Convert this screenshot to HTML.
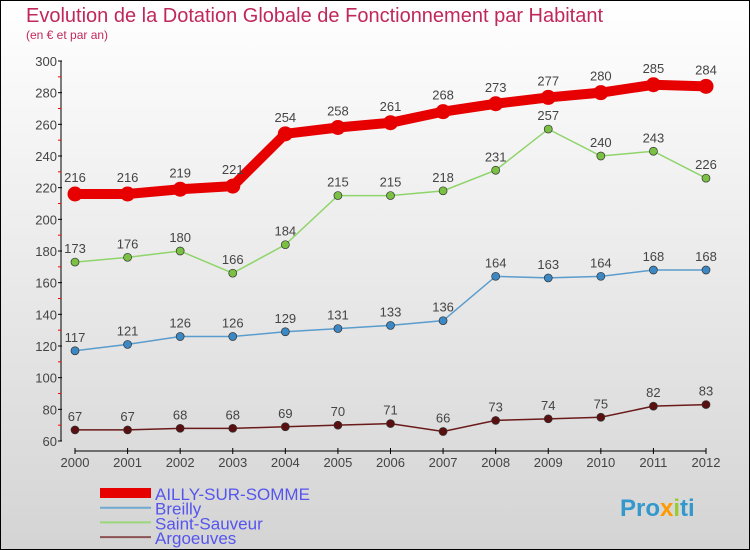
<!DOCTYPE html>
<html><head><meta charset="utf-8"><style>
body{margin:0}
#c{width:750px;height:550px;position:relative;box-sizing:border-box;border:1px solid #000;background:linear-gradient(#fff,#d4d4d4);font-family:"Liberation Sans",sans-serif;overflow:hidden}
</style></head><body>
<div id="c">
<svg id="s" width="750" height="550" style="position:absolute;left:-1px;top:-1px">
<text x="26" y="22" font-size="20" fill="#c0285a">Evolution de la Dotation Globale de Fonctionnement par Habitant</text>
<text x="26" y="39" font-size="12" fill="#c0285a">(en € et par an)</text>
<g id="ax"></g><g id="marks"></g>
<text x="620" y="516" font-size="24" font-weight="bold" fill="#39c">Pro<tspan fill="#f90">x</tspan><tspan fill="#9c3">i</tspan>ti</text>
</svg>
</div>
<script>
const years=[2000,2001,2002,2003,2004,2005,2006,2007,2008,2009,2010,2011,2012];
const ailly=[216,216,219,221,254,258,261,268,273,277,280,285,284];
const breilly=[117,121,126,126,129,131,133,136,164,163,164,168,168];
const saint=[173,176,180,166,184,215,215,218,231,257,240,243,226];
const argo=[67,67,68,68,69,70,71,66,73,74,75,82,83];
const yTicks=[60,80,100,120,140,160,180,200,220,240,260,280,300];
const names=["AILLY-SUR-SOMME","Breilly","Saint-Sauveur","Argoeuves"];
const NS="http://www.w3.org/2000/svg";
const X=i=>75+i*(706-75)/(years.length-1);
const Y=v=>441-(v-60)*(380/240);
function mk(t,a,p){const e=document.createElementNS(NS,t);for(const k in a)e.setAttribute(k,a[k]);(p||document.getElementById('marks')).appendChild(e);return e;}
const ax=document.getElementById('ax');
let e=mk('line',{x1:61,y1:Y(300),x2:61,y2:Y(60),stroke:'#000','stroke-width':1},ax);


yTicks.forEach(v=>{
 let t=mk('line',{x1:58,x2:62,y1:Y(v),y2:Y(v),stroke:'#000'},ax);
 
 
 let r=mk('line',{x1:58,x2:61,y1:Y(v+10),y2:Y(v+10),stroke:'#f00'},ax);
 if(v==300)r.remove();
 let l=mk('text',{x:57,y:Y(v)+5,'font-size':13,fill:'#444','text-anchor':'end'},ax);l.textContent=v;
 
 
});
e=mk('line',{x1:75,y1:451,x2:706,y2:451,stroke:'#000'},ax);


years.forEach((y,i)=>{
 mk('line',{x1:X(i),x2:X(i),y1:448,y2:454,stroke:'#000'},ax);
 let l=mk('text',{x:X(i),y:467,'font-size':13,fill:'#444','text-anchor':'middle'},ax);l.textContent=y;
 
 
});
const series=[[argo,'#6b1a1a','#5a1010',1.5,4,'argoeuves'],[breilly,'#5a9ccc','#3b88c4',1.5,4,'breilly'],[saint,'#8fd46a','#7ac143',1.5,4,'saint-sauveur'],[ailly,'#e60000','#e60000',10,7.5,'ailly-sur-somme']];
series.forEach(([d,lc,pc,w,r,n])=>{
 let p=mk('polyline',{points:d.map((v,i)=>X(i)+','+Y(v)).join(' '),fill:'none',stroke:lc,'stroke-width':w});
 
 
 d.forEach((v,i)=>{
  let c=mk('circle',{cx:X(i),cy:Y(v),r:r,fill:pc,stroke:'#333','stroke-width':r>5?0:0.7});
  
  
  let t=mk('text',{x:X(i),y:Y(v)-(r>5?12:9),'font-size':13,fill:'#444','text-anchor':'middle'});t.textContent=v;
  
  
 });
});
const lc=['#e60000','#6fa8d0','#9ad67a','#8a5252'],lw=[10,2,2,2];
names.forEach((n,i)=>{
 const y=493+i*14.7;
 let l=mk('line',{x1:100,x2:151,y1:y,y2:y,stroke:lc[i],'stroke-width':lw[i]});
 
 
 let t=mk('text',{x:155,y:y+7,'font-size':17,fill:'#5555ee'});t.textContent=n;
 
 
});
</script>
</body></html>
